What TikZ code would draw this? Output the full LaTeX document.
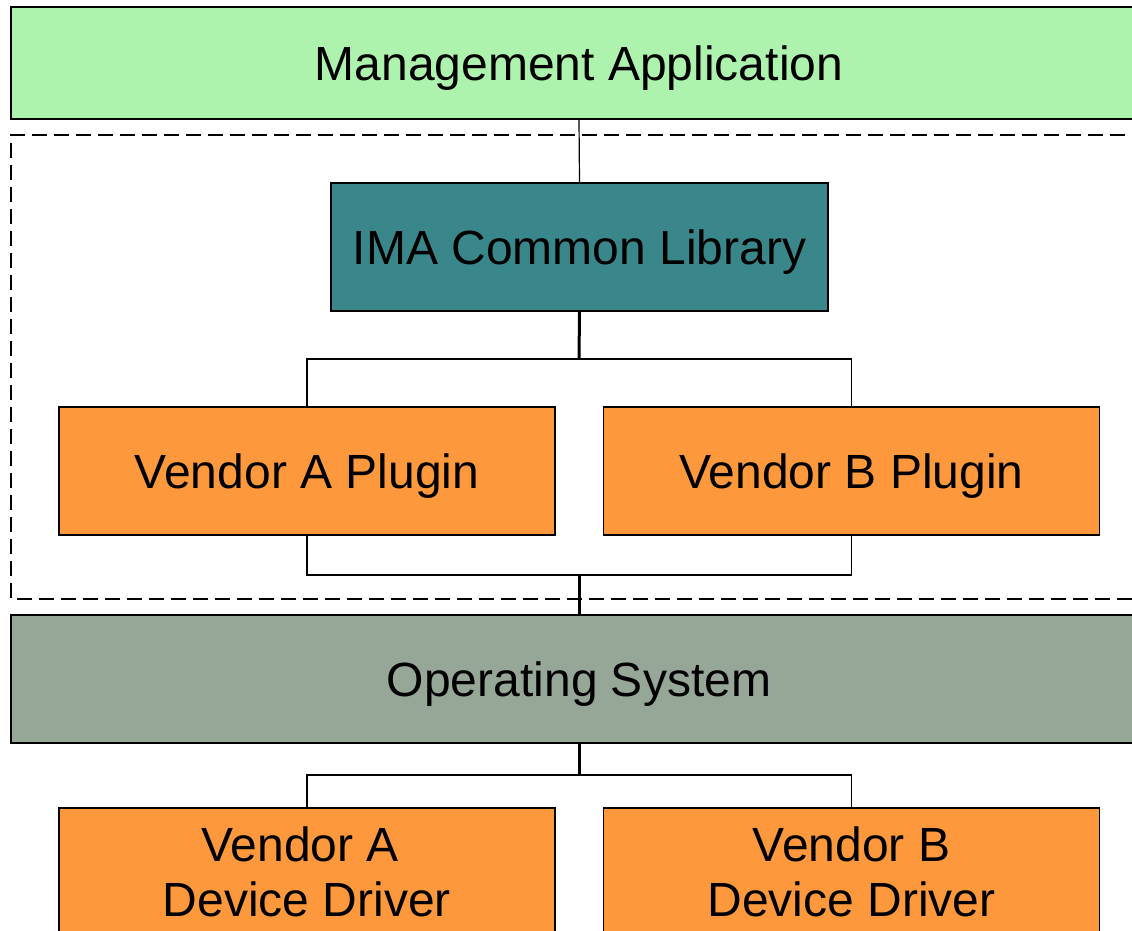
\documentclass[tikz,border=0pt]{standalone}
\usepackage{fontspec}
\setmainfont{Liberation Sans}
\usetikzlibrary{positioning}
\definecolor{appgreen}{HTML}{ADF3AD}
\definecolor{libteal}{HTML}{3A878B}
\definecolor{vendororange}{HTML}{FD983C}
\definecolor{osgray}{HTML}{97A797}

\begin{document}
\begin{tikzpicture}[x=1pt,y=-1pt,
 font=\fontsize{48}{55}\selectfont,
 layer/.style={draw=black,line width=1.5pt,minimum width=1136pt,minimum height=112pt,inner sep=0pt,text depth=0pt},
 module/.style={draw=black,line width=1.5pt,fill=vendororange,minimum width=496pt,minimum height=128pt,inner sep=0pt,align=center},
 oneline/.style={text depth=0pt},
 link/.style={black,line width=1.2pt},
 trunk/.style={black,line width=3pt}]

\useasboundingbox (0,0) rectangle (1132,931);
\clip (0,0) rectangle (1132,931);

% Library boundary: the layers inside it ship with the IMA package.
\draw[black,line width=1.3pt,dash pattern=on 15pt off 7pt] (1147,135) -- (11,135) -- (11,599) -- (1147,599);

\node[layer,fill=appgreen] (mgmt) at (579,63) {Management Application};
\node[draw=black,line width=1.5pt,fill=libteal,minimum width=497pt,minimum height=128pt,inner sep=0pt,oneline]
  (ima) at (579.5,247) {IMA Common Library};
\node[module,oneline] (plugA) at (307,471) {Vendor A Plugin};
\node[module,oneline] (plugB) at (851.5,471) {Vendor B Plugin};
\node[layer,fill=osgray,minimum height=128pt] (os) at (579,679) {Operating System};
% first line of A keeps a trailing blank, so it sits a bit left
\node[module] (drvA) at (307,872) {Vendor A\kern0.28em\\Device Driver};
\node[module] (drvB) at (851.5,872) {Vendor B\\Device Driver};

% Forks between the layers
\coordinate (plugfork) at (579,359);
\coordinate (osfork) at (579,575);
\coordinate (drvfork) at (579,775);

\draw[link] (mgmt.south) -- (ima.north);
\draw[trunk] (ima.south) -- (plugfork);
\draw[link] (plugA.north) |- (plugfork) -| (plugB.north);
\draw[link] (plugA.south) |- (osfork) -| (plugB.south);
\draw[trunk] (osfork) -- (os.north);
\draw[trunk] (os.south) -- (drvfork);
\draw[link] (drvA.north) |- (drvfork) -| (drvB.north);
\end{tikzpicture}
\end{document}
